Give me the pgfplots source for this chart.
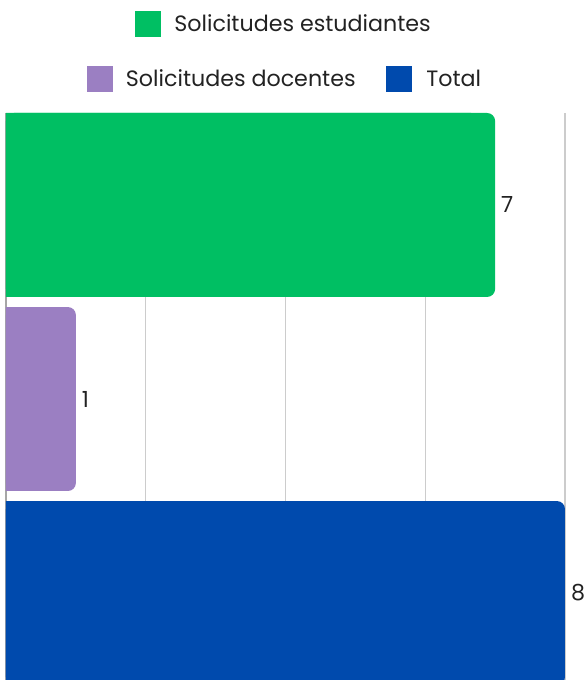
\documentclass[border=0pt]{standalone}
\usepackage{pgfplots}
\pgfplotsset{compat=1.18}
\usepackage{fontspec}
\setmainfont{Poppins}

\definecolor{cEst}{HTML}{00BF63}
\definecolor{cDoc}{HTML}{9B7FC2}
\definecolor{cTot}{HTML}{004AAD}
\definecolor{cGrid}{HTML}{CCCCCC}
\definecolor{cTxt}{HTML}{222222}

% a shifted copy of each bar hides the rounded left corners (clipped by the axis)
\pgfplotsset{
  valbar/.style={fill=#1, draw=none, rounded corners=4pt, nodes near coords},
  padbar/.style={fill=#1, draw=none, rounded corners=4pt, xshift=-8pt, forget plot},
}

\begin{document}
\begin{tikzpicture}
\begin{axis}[
    scale only axis,
    width=279.5pt, height=283.5pt,
    xbar, bar width=0.948, /pgf/bar shift=0pt,
    xmin=0, xmax=8, ymin=-0.448, ymax=2.474,
    xtick={0,2,4,6,8}, xticklabels={}, ytick=\empty,
    major tick length=0pt,
    xmajorgrids, major grid style={draw=cGrid, line width=0.6pt},
    axis x line*=bottom, x axis line style={draw=none},
    axis y line*=left, y axis line style={-, draw=gray!70, line width=0.8pt},
    point meta=x,
    /pgf/number format/assume math mode=true,
    every node near coord/.append style={font=\fontsize{11.1}{13}\selectfont,
        text=cTxt, anchor=west, xshift=-0.5pt},
]
\addplot[padbar=cEst] coordinates {(7,2)};
\addplot[valbar=cEst] coordinates {(7,2)};
\addplot[padbar=cDoc] coordinates {(1,1)};
\addplot[valbar=cDoc] coordinates {(1,1)};
\addplot[padbar=cTot] coordinates {(8,0)};
\addplot[valbar=cTot] coordinates {(8,0)};
\coordinate (nw) at (rel axis cs:0,1);
\coordinate (se) at (rel axis cs:1,0);
\end{axis}
% legend
\fill[cEst] ([shift={(64.5pt,38pt)}]nw) rectangle ([shift={(77.5pt,51pt)}]nw);
\node[anchor=base west, inner sep=0pt, text=cTxt, font=\fontsize{11.1}{13}\selectfont] at ([shift={(84pt,40.5pt)}]nw) {Solicitudes estudiantes};
\fill[cDoc] ([shift={(40.25pt,10.5pt)}]nw) rectangle ([shift={(53.25pt,23.5pt)}]nw);
\node[anchor=base west, inner sep=0pt, text=cTxt, font=\fontsize{11.1}{13}\selectfont] at ([shift={(59.75pt,13pt)}]nw) {Solicitudes docentes};
\fill[cTot] ([shift={(190pt,10.5pt)}]nw) rectangle ([shift={(203pt,23.5pt)}]nw);
\node[anchor=base west, inner sep=0pt, text=cTxt, font=\fontsize{11.1}{13}\selectfont] at ([shift={(210pt,13pt)}]nw) {Total};
\pgfresetboundingbox
\path ([shift={(-3pt,56.5pt)}]nw) rectangle ([shift={(10pt,0pt)}]se);
\end{tikzpicture}
\end{document}
